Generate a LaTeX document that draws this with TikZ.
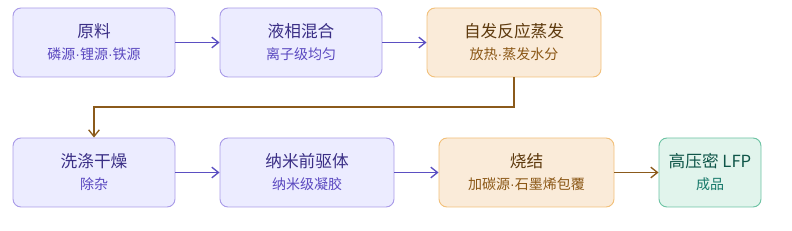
\documentclass[tikz,border=0pt]{standalone}
\usepackage{fontspec}
\setmainfont{Noto Sans CJK SC}
\newfontfamily\latfont{Liberation Sans}
\newcommand{\mdot}{{\latfont\char"00B7}}
\usetikzlibrary{arrows.meta}
\definecolor{pfill}{HTML}{ECECFF}
\definecolor{pdraw}{HTML}{A99BE8}
\definecolor{ptitle}{HTML}{3A2E85}
\definecolor{psub}{HTML}{5A48C0}
\definecolor{ofill}{HTML}{FAEBD9}
\definecolor{odraw}{HTML}{F2C07A}
\definecolor{otitle}{HTML}{5E3A0E}
\definecolor{osub}{HTML}{8A5614}
\definecolor{gfill}{HTML}{E1F4EC}
\definecolor{gdraw}{HTML}{6CC3A3}
\definecolor{gtitle}{HTML}{0E5548}
\definecolor{gsub}{HTML}{17796A}
\definecolor{parrow}{HTML}{5B4FC2}
\definecolor{barrow}{HTML}{8B5A1B}
\tikzset{
  boxbase/.style={rounded corners=6pt, line width=0.7pt, inner sep=0pt, align=center},
  pbox/.style={boxbase, fill=pfill, draw=pdraw},
  obox/.style={boxbase, fill=ofill, draw=odraw},
  gbox/.style={boxbase, fill=gfill, draw=gdraw},
  ttl/.style={font=\fontsize{12.5}{14}\selectfont, inner sep=0pt},
  sub/.style={font=\fontsize{10.5}{12}\selectfont, inner sep=0pt},
  parr/.style={draw=parrow, line width=1pt, -{Straight Barb[length=5pt,width=8pt]}},
  barr/.style={draw=barrow, line width=1pt, -{Straight Barb[length=5pt,width=8pt]}}
}
\begin{document}
\begin{tikzpicture}[x=0.75pt,y=-0.75pt]
\useasboundingbox (0,0) rectangle (792,231);
% boxes
\node[pbox, minimum width=162*0.75pt, minimum height=69*0.75pt] (b1) at (94,42.5) {};
\node[pbox, minimum width=162*0.75pt, minimum height=69*0.75pt] (b2) at (301,42.5) {};
\node[obox, minimum width=174*0.75pt, minimum height=69*0.75pt] (b3) at (514,42.5) {};
\node[pbox, minimum width=162*0.75pt, minimum height=69*0.75pt] (b4) at (94,172.5) {};
\node[pbox, minimum width=174*0.75pt, minimum height=69*0.75pt] (b5) at (307,172.5) {};
\node[obox, minimum width=175*0.75pt, minimum height=69*0.75pt] (b6) at (526.5,172.5) {};
\node[gbox, minimum width=102*0.75pt, minimum height=69*0.75pt] (b7) at (710,172.5) {};
% texts
\node[ttl, text=ptitle] (t1) at (94,31) {原料};
\node[sub, text=psub] (s1) at (94,54) {磷源\mdot 锂源\mdot 铁源};
\node[ttl, text=ptitle] (t2) at (301,31) {液相混合};
\node[sub, text=psub] (s2) at (301,54) {离子级均匀};
\node[ttl, text=otitle] (t3) at (514,31) {自发反应蒸发};
\node[sub, text=osub] (s3) at (514,54) {放热\mdot 蒸发水分};
\node[ttl, text=ptitle] (t4) at (94,161) {洗涤干燥};
\node[sub, text=psub] (s4) at (94,184) {除杂};
\node[ttl, text=ptitle] (t5) at (307,161) {纳米前驱体};
\node[sub, text=psub] (s5) at (307,184) {纳米级凝胶};
\node[ttl, text=otitle] (t6) at (526.5,161) {烧结};
\node[sub, text=osub] (s6) at (526.5,184) {加碳源\mdot 石墨烯包覆};
\node[ttl, text=gtitle] (t7) at (710,161) {高压密 LFP};
\node[sub, text=gsub] (s7) at (710,184) {成品};
% connectors
\draw[parr] (b1.east) -- (b2.west);
\draw[parr] (b2.east) -- (b3.west);
\draw[barr] (b3.south) |- (94,107) -- (b4.north);
\draw[parr] (b4.east) -- (b5.west);
\draw[parr] (b5.east) -- (b6.west);
\draw[barr] (b6.east) -- (b7.west);
\end{tikzpicture}
\end{document}
